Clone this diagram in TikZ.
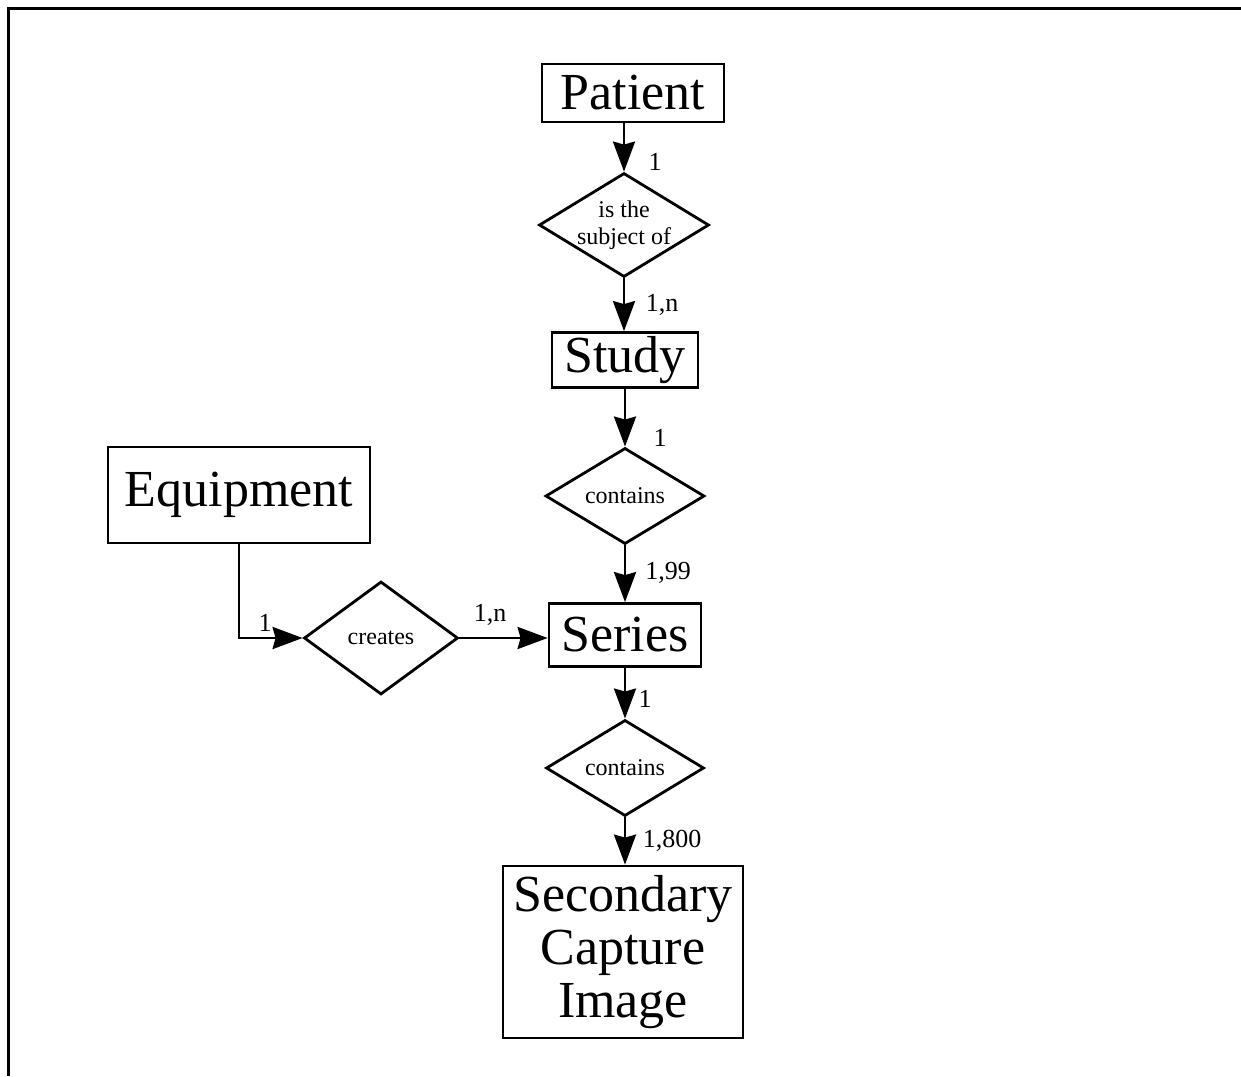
\documentclass[tikz,border=0pt]{standalone}
\usepackage{fontspec}
\setmainfont{Liberation Serif}
\usetikzlibrary{shapes.geometric,arrows.meta}

\tikzset{
  entity/.style={draw, line width=2.8pt, inner sep=0pt, align=center, font=\fontsize{52}{52}\selectfont},
  relation/.style={draw, diamond, line width=2.8pt, inner sep=0pt, align=center, font=\fontsize{24}{27}\selectfont},
  card/.style={inner sep=0pt, text height=18pt, text depth=0pt, font=\fontsize{26}{26}\selectfont},
  arr/.style={-{Stealth[length=30pt,width=22pt,inset=3pt]}, line width=2.8pt}
}

\begin{document}
\begin{tikzpicture}[x=1pt, y=-1pt]
                \useasboundingbox (0,0) rectangle (1241,1076);
                \draw[line width=3pt] (8,1076) -- (8,8) -- (1241,8);
                % entities
                \node[entity, minimum width=182, minimum height=58] (patient) at (633,93) {Patient};
                \node[entity, minimum width=146, minimum height=55] (study) at (625,360) {Study};
                \node[entity, minimum width=262, minimum height=96] (equipment) at (239,495) {Equipment};
                \node[entity, minimum width=152, minimum height=63] (series) at (625,635) {Series};
                \node[entity, minimum width=240, minimum height=172] (image) at (623,952) {Secondary\\[1pt]Capture\\[1pt]Image};
                % relations
                \node[relation, aspect=1.63, inner sep=-2pt, minimum width=170, minimum height=104] (subject) at (624,225) {is the\\subject of};
                \node[relation, minimum width=159, minimum height=91] (containsA) at (625,496) {contains};
                \node[relation, minimum width=154, minimum height=113] (creates) at (381,638) {creates};
                \node[relation, minimum width=158, minimum height=90] (containsB) at (625,768) {contains};
                % connectors
                \draw[arr] (patient.south -| subject.north) -- (subject.north);
                \draw[arr] (subject.south) -- (subject.south |- study.north);
                \draw[arr] (study.south) -- (containsA.north);
                \draw[arr] (containsA.south) -- (containsA.south |- series.north);
                \draw[arr] (equipment.south) |- (creates.west);
                \draw[arr] (creates.east) -- (creates.east -| series.west);
                \draw[arr] (series.south) -- (containsB.north);
                \draw[arr] (containsB.south) -- (containsB.south |- image.north);
                % cardinalities
                \node[card] (cardPatient) at (655,161) {1};
                \node[card] (cardStudy) at (662,302) {1,n};
                \node[card] (cardStudyA) at (660,437) {1};
                \node[card] (cardSeriesA) at (668,570) {1,99};
                \node[card] (cardEquip) at (265,622) {1};
                \node[card] (cardSeriesB) at (490,612) {1,n};
                \node[card] (cardSeries) at (645,698) {1};
                \node[card] (cardImage) at (672,838) {1,800};
            \end{tikzpicture}
\end{document}
